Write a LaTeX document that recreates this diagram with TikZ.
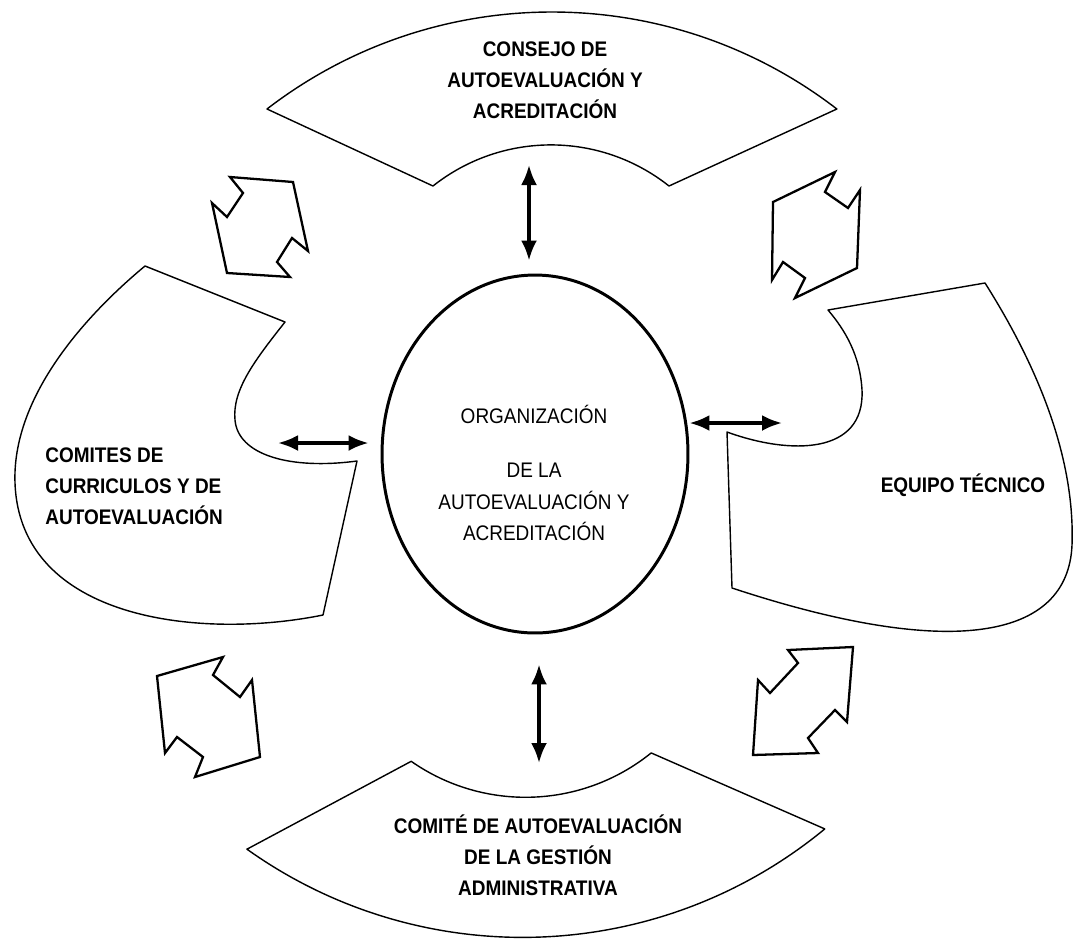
\documentclass[tikz,border=0pt]{standalone}
\usepackage{fontspec}
\setmainfont{Liberation Sans}[FakeStretch=0.9]
\usetikzlibrary{arrows.meta,shapes.geometric}

\begin{document}
\begin{tikzpicture}[x=0.02cm,y=-0.02cm]
\tikzset{part/.style={draw,line width=0.8pt,line join=round}}
\tikzset{fatarrow/.style={draw,line width=1.3pt,line join=miter}}
\tikzset{link/.style={line width=1.9pt,{Latex[length=0.4cm,width=0.32cm]}-{Latex[length=0.4cm,width=0.32cm]}}}
\tikzset{boxtext/.style={font=\fontsize{12}{17.6}\selectfont\bfseries,inner sep=0pt,align=center}}

\useasboundingbox (0,0) rectangle (1074,940);

\node[ellipse,draw,line width=1.7pt,minimum width=6.12cm,minimum height=7.16cm] (org) at (535,454) {};
\node[font=\fontsize{12}{18}\selectfont,align=center,inner sep=0pt] (orgtext) at (534,473)
  {ORGANIZACIÓN\\[13pt]DE LA\\AUTOEVALUACIÓN Y\\ACREDITACIÓN};

\draw[part] (267,109) arc[start angle=-127.6,end angle=-52.4,radius=467]
  -- (669,186) arc[start angle=-51.6,end angle=-128.4,radius=190] -- cycle;
\node[boxtext] (consejo) at (545,80) {CONSEJO DE\\AUTOEVALUACIÓN Y\\ACREDITACIÓN};

\draw[part,rotate around={2:(536,840)}] (247,839) -- (414,757) arc[start angle=126.9,end angle=53.1,radius=200]
  -- (825,839) arc[start angle=52.5,end angle=127.5,radius=475] -- cycle;
\node[boxtext] (comite) at (538,855) {COMITÉ DE AUTOEVALUACIÓN\\DE LA GESTIÓN\\ADMINISTRATIVA};

\draw[part] (145,266) -- (285,322) .. controls (255,360) and (232,390) .. (235,420)
  .. controls (238,455) and (290,470) .. (357,461) -- (323,615)
  .. controls (200,640) and (20,620) .. (15,483)
  .. controls (12,400) and (80,320) .. (145,266) -- cycle;
\node[boxtext,align=left,anchor=west] (comites) at (45,486) {COMITES DE\\CURRICULOS Y DE\\AUTOEVALUACIÓN};

\draw[part] (828,310) -- (985,283) .. controls (1040,370) and (1075,460) .. (1072,545)
  .. controls (1068,640) and (950,660) .. (732,588) -- (727,432)
  .. controls (790,455) and (865,455) .. (862,390)
  .. controls (860,355) and (845,330) .. (828,310) -- cycle;
\node[boxtext] (equipo) at (963,485) {EQUIPO TÉCNICO};

\draw[fatarrow] (230,177) -- (293,182) -- (308,251) -- (292,238) -- (277,262) -- (290,277)
  -- (227,273) -- (212,203) -- (227,217) -- (243,193) -- cycle;
\draw[fatarrow] (835,172) -- (825,192) -- (848,208) -- (860,190) -- (857,268) -- (795,298)
  -- (805,278) -- (783,262) -- (772,280) -- (773,202) -- cycle;
\draw[fatarrow] (157,676) -- (223,657) -- (213,675) -- (240,697) -- (252,680) -- (260,757)
  -- (195,777) -- (203,757) -- (177,737) -- (165,753) -- cycle;
\draw[fatarrow] (788,650) -- (853,647) -- (847,722) -- (835,710) -- (808,738) -- (818,753)
  -- (753,755) -- (758,680) -- (770,693) -- (798,663) -- cycle;

\coordinate (t1) at (529,165);
\coordinate (b1) at (539,763);
\coordinate (l1) at (278,443);
\coordinate (r1) at (782,423);
\draw[link,shorten >=0.26cm] (t1) -- (org.north -| t1);
\draw[link,shorten <=0.6cm] (org.south -| b1) -- (b1);
\draw[link,shorten >=0.24cm] (l1) -- (org.west |- l1);
\draw[link] (org.east |- r1) -- (r1);

\end{tikzpicture}
\end{document}
